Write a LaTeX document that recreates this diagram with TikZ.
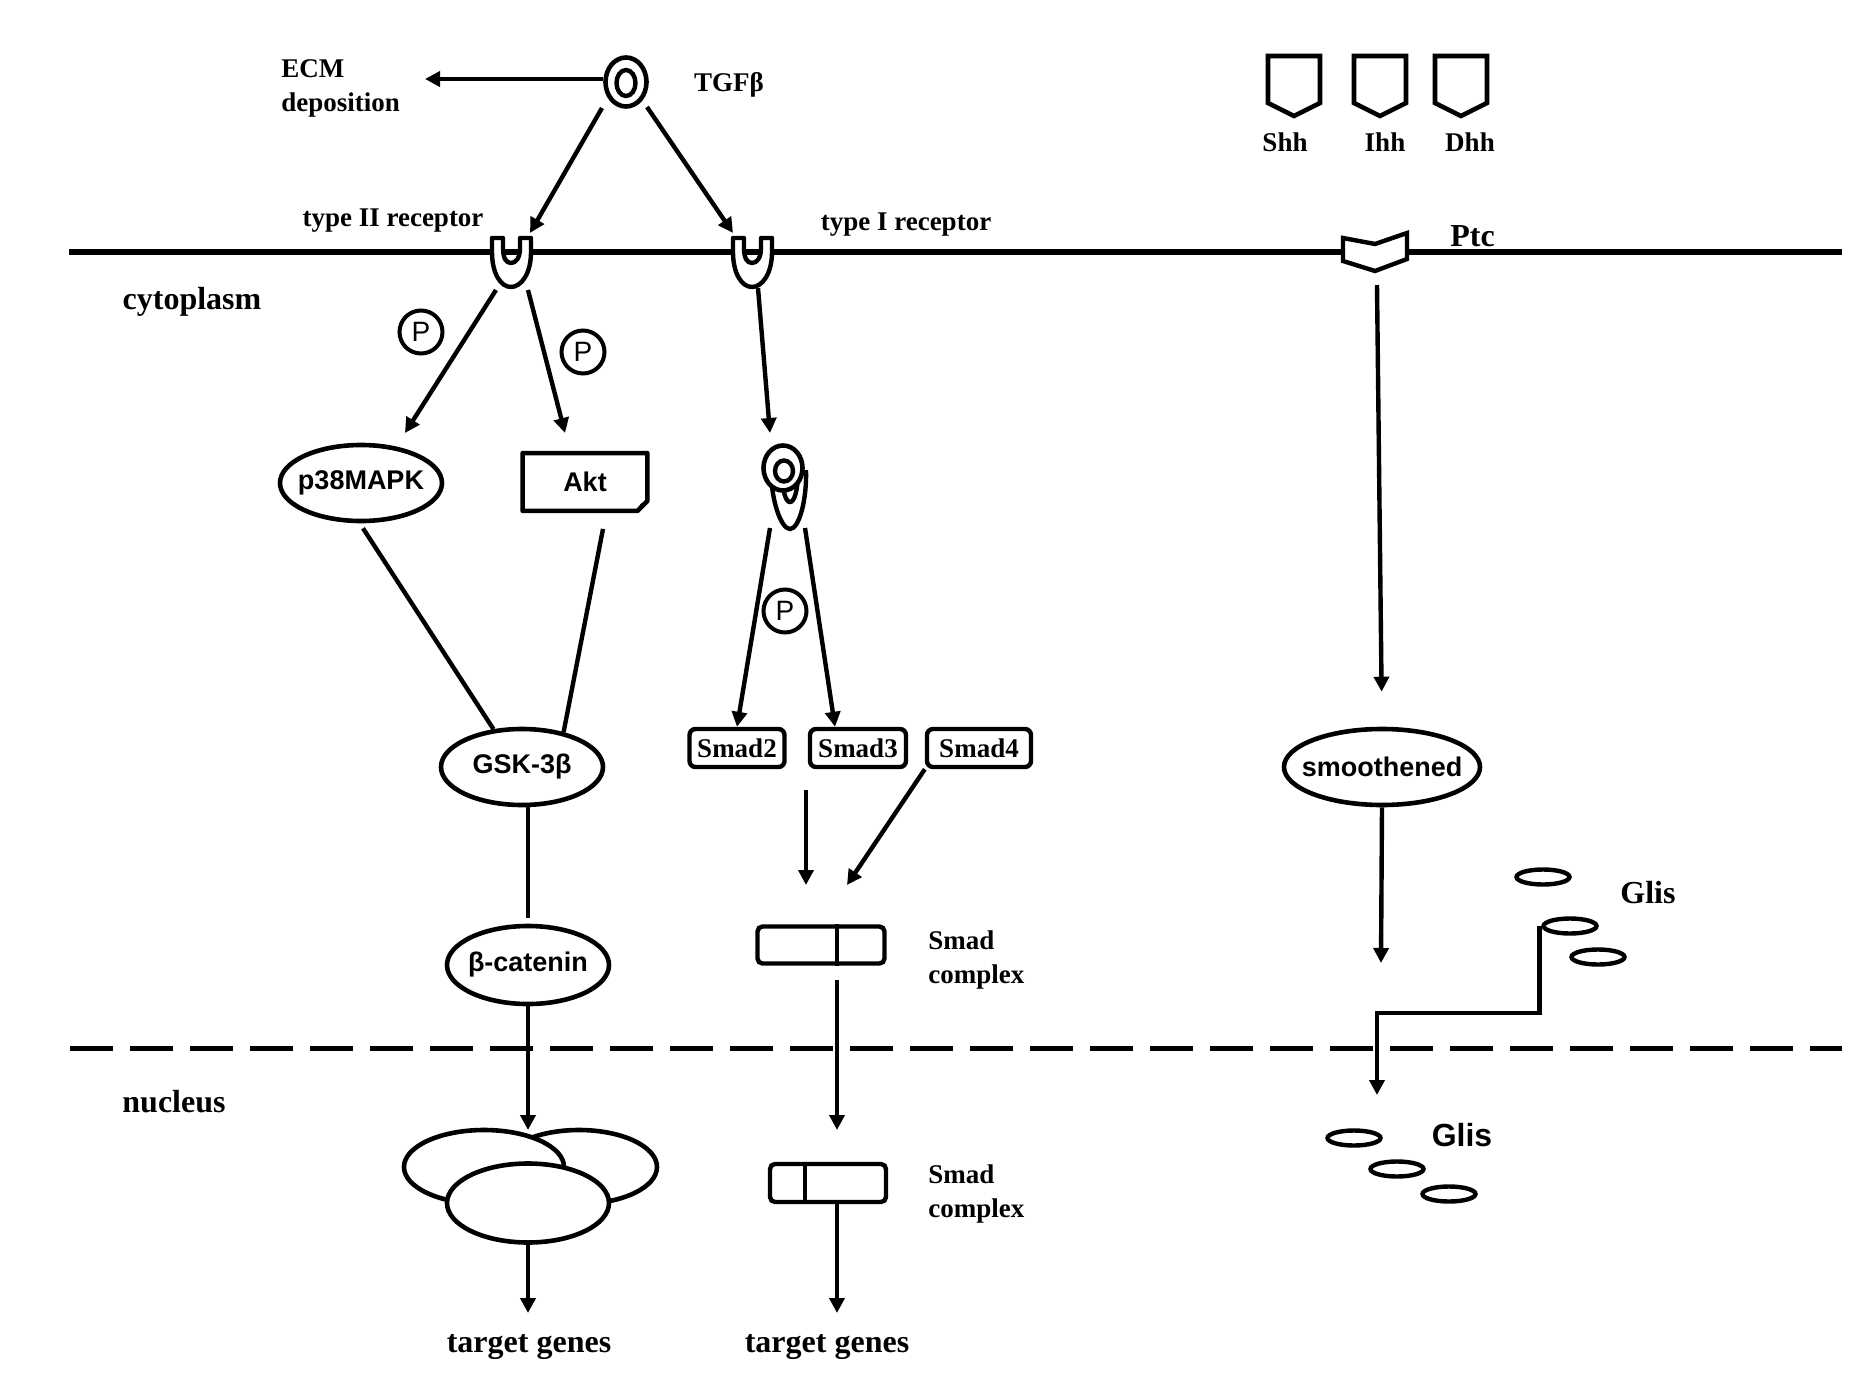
\documentclass[tikz,border=0pt]{standalone}
\usepackage{fontspec}
\setmainfont{Liberation Serif}
\setsansfont{Liberation Sans}
\usetikzlibrary{arrows.meta,shapes.geometric,calc}
\begin{document}
\begin{tikzpicture}[x=0.5pt,y=-0.5pt,
  lab/.style={font=\bfseries\fontsize{13.5}{17}\selectfont, inner sep=0pt, align=left},
  big/.style={font=\bfseries\fontsize{16}{18}\selectfont, inner sep=0pt},
  sfl/.style={font=\sffamily\bfseries\fontsize{13.5}{15}\selectfont, inner sep=0pt},
  arr/.style={line width=2.2pt, -{Triangle[length=7.5pt,width=7.5pt]}},
  conn/.style={line width=2.2pt},
  oval/.style={ellipse, draw, line width=2.3pt, fill=white, inner sep=0pt, minimum width=81pt, minimum height=38pt},
  pcirc/.style={circle, draw, line width=2pt, minimum size=21.5pt, inner sep=0pt, font=\sffamily\fontsize{14}{14}\selectfont},
  smadbox/.style={rectangle, rounded corners=3pt, draw, line width=2.2pt, minimum height=19pt, inner sep=1pt, font=\bfseries\fontsize{13.5}{15}\selectfont},
  cplx/.style={rectangle, rounded corners=2.5pt, draw, line width=2.2pt, inner sep=0pt},
  glis/.style={ellipse, draw, line width=2.2pt, minimum width=26.5pt, minimum height=7.5pt, inner sep=0pt},
  blob/.style={ellipse, draw, line width=2.3pt, fill=white, inner sep=0pt},
  shield/.pic={\draw[line width=2.3pt, line join=miter] (-26,0) -- (26,0) -- (26,47) -- (0,60) -- (-26,47) -- cycle;},
  recU/.pic={\draw[line width=2.2pt, fill=white, line join=round] (-19,0) -- (-19,14) .. controls (-19,36) and (-10,49) .. (0,49) .. controls (10,49) and (20,36) .. (20,14) -- (20,0) -- (9,0) -- (9,10) .. controls (9,20) and (5,25) .. (0,25) .. controls (-5,25) and (-8,20) .. (-8,10) -- (-8,0) -- cycle;}
]
\useasboundingbox (0,0) rectangle (1870,1392);

% membrane and nuclear envelope
\coordinate (memL) at (69,252);
\coordinate (memR) at (1842,252);
\draw[line width=3pt] (memL) -- (memR);
\coordinate (nucL) at (70,1048);
\coordinate (nucR) at (1842,1048);
\draw[line width=2.5pt, dash pattern=on 21.5pt off 8.5pt] (nucL) -- (nucR);

\node[big] (cyto) at (192,302) {cytoplasm};
\node[big] (nuc) at (174,1102) {nucleus};

% TGF beta
\node[blob, minimum width=20.5pt, minimum height=24.5pt] (tgf) at (626,82) {};
\node[ellipse, draw, line width=2.2pt, minimum width=9.5pt, minimum height=13pt, inner sep=0pt] (tgfin) at (626,83) {};
\node[lab] (tgflab) at (729,85) {TGFβ};
\node[lab, anchor=north west] (ecm) at (281,59) {ECM\\deposition};
\coordinate (ecmtip) at (425,79);
\draw[arr] (tgf.west |- ecmtip) -- (ecmtip);

% receptors
\coordinate (rec2) at (511,238);
\coordinate (rec1) at (752,238);
\coordinate (tgfA) at ($(tgf)+(-24,26)$);
\coordinate (tgfB) at ($(tgf)+(21,25)$);
\draw[arr] (tgfA) -- ($(rec2)+(19,-5)$);
\draw[arr] (tgfB) -- ($(rec1)+(-19,-5)$);
\pic at (rec2) {recU};
\pic at (rec1) {recU};
\node[lab] (t2lab) at (393,221) {type II receptor};
\node[lab] (t1lab) at (906,225) {type I receptor};

% left branch
\node[oval] (p38) at (361,483) {};
\node[sfl] (p38t) at (p38) {p38MAPK};
\node[sfl, minimum width=62pt, minimum height=28.5pt] (akt) at (585,482) {Akt};
\draw[line width=2.3pt, line join=round] (akt.north west) -- (akt.north east) -- ($(akt.south east)+(0,-10)$) -- ($(akt.south east)+(-10,0)$) -- (akt.south west) -- cycle;
\fill ($(akt.south east)+(-10,0)$) -- ($(akt.south east)+(-7,-7)$) -- ($(akt.south east)+(0,-10)$) -- cycle;
\coordinate (p38in) at (405,433);
\coordinate (aktin) at (565,433);
\draw[arr] ($(rec2)+(-15,52)$) -- (p38in);
\draw[arr] ($(rec2)+(17,52)$) -- (aktin);
\node[pcirc] (p1) at (421,332) {P};
\node[pcirc] (p2) at (583,352) {P};

\node[oval] (gsk) at (522,767) {};
\node[sfl] (gskt) at (gsk) {GSK-3β};
\draw[conn] ($(p38.south)+(2,5)$) -- (gsk.127);
\draw[conn] ($(akt.south)+(18,18)$) -- (gsk.40);
\node[oval, minimum height=39pt] (bcat) at (528,965) {};
\node[sfl] (bcatt) at (bcat) {β-catenin};
\draw[conn] ($(gsk.south)+(6,0)$) -- ($(bcat.north)+(0,-6)$);
\coordinate (nucin) at (528,1130);
\draw[arr] (bcat.south) -- (nucin);

\node[blob, minimum width=78pt, minimum height=37pt] (eR) at (579,1167) {};
\node[blob, minimum width=80pt, minimum height=37pt] (eL) at (484,1167) {};
\node[blob, minimum width=81pt, minimum height=39.5pt] (eF) at (528,1203) {};
\coordinate (tg1in) at (528,1313);
\draw[arr] (eF.south) -- (tg1in);
\node[big] (tg1) at (529,1347) {target genes};

% middle branch
\coordinate (r1out) at ($(rec1)+(6,50)$);
\coordinate (cxin) at (770,433);
\draw[arr] (r1out) -- (cxin);
\coordinate (sr) at (790,470);
\draw[line width=2.2pt, fill=white] ($(sr)+(-19,0)$) .. controls ($(sr)+(-19,30)$) and ($(sr)+(-9,59)$) .. ($(sr)+(0,59)$) .. controls ($(sr)+(9,59)$) and ($(sr)+(17,30)$) .. ($(sr)+(16,0)$);
\draw[line width=2.2pt] ($(sr)+(-8,0)$) .. controls ($(sr)+(-8,22)$) and ($(sr)+(-4,32)$) .. ($(sr)+(0,32)$) .. controls ($(sr)+(4,32)$) and ($(sr)+(8,22)$) .. ($(sr)+(8,0)$);
\node[blob, minimum width=19.5pt, minimum height=22.5pt] (cx) at (783,468) {};
\node[ellipse, draw, line width=2.2pt, minimum width=9pt, minimum height=10.5pt, inner sep=0pt] (cxin2) at (784,471) {};

\node[smadbox, minimum width=47.5pt] (smad2) at (737,748) {Smad2};
\node[smadbox, minimum width=48pt] (smad3) at (858,748) {Smad3};
\node[smadbox, minimum width=52pt] (smad4) at (979,748) {Smad4};
\draw[arr] ($(cx)+(-13,60)$) -- (smad2.north);
\draw[arr] ($(cx)+(22,60)$) -- ($(smad3.north)+(-23,0)$);
\node[pcirc] (p3) at (785,611) {P};

\coordinate (ds1) at (806,790);
\coordinate (ds2) at (806,885);
\draw[arr] (ds1) -- (ds2);
\coordinate (s4tip) at (847,885);
\draw[arr] (smad4.south west) -- (s4tip);

\node[cplx, minimum width=63.5pt, minimum height=18.5pt] (scx1) at (821,945) {};
\coordinate (dv1) at (837,0);
\draw[line width=2.2pt] (scx1.north -| dv1) -- (scx1.south -| dv1);
\node[lab, anchor=north west] (scx1lab) at (928,930) {Smad\\complex};
\coordinate (c2in) at (837,1130);
\draw[arr] (scx1.south -| c2in) ++(0,14) -- (c2in);

\node[cplx, minimum width=58pt, minimum height=19pt] (scx2) at (828,1183) {};
\coordinate (dv2) at (805,0);
\draw[line width=2.2pt] (scx2.north -| dv2) -- (scx2.south -| dv2);
\node[lab, anchor=north west] (scx2lab) at (928,1164) {Smad\\complex};
\coordinate (tg2in) at (837,1313);
\draw[arr] (scx2.south -| tg2in) -- (tg2in);
\node[big] (tg2) at (827,1347) {target genes};

% hedgehog
\coordinate (shh) at (1294,56);
\coordinate (ihh) at (1380,56);
\coordinate (dhh) at (1461,56);
\pic at (shh) {shield};
\pic at (ihh) {shield};
\pic at (dhh) {shield};
\node[lab] (shhl) at (1285,142) {Shh};
\node[lab] (ihhl) at (1385,142) {Ihh};
\node[lab] (dhhl) at (1470,142) {Dhh};

\coordinate (ptc) at (1375,252);
\begin{scope}[shift={(ptc)}]
\draw[line width=2.2pt, fill=white, line join=miter] (-32,-14) -- (0,-8) -- (32,-19) -- (32,7) -- (0,19) -- (-32,9) -- cycle;
\end{scope}
\node[font=\bfseries\fontsize{16}{18}\selectfont, inner sep=0pt, anchor=base west] (ptcl) at (1450,246) {Ptc};

\node[oval, minimum width=98pt, minimum height=38pt] (smo) at (1382,767) {};
\node[sfl] (smot) at (smo) {smoothened};
\draw[arr, shorten >=17.5pt] ($(ptc)+(2,33)$) -- (smo.north);
\coordinate (smout) at (1381,963);
\draw[arr] (smo.south) -- (smout);

\node[glis] (g1) at (1543,877) {};
\node[glis] (g2) at (1570,926) {};
\node[glis] (g3) at (1598,957) {};
\node[big] (glisup) at (1648,893) {Glis};
\coordinate (gdown) at (1377,1095);
\draw[arr, line join=miter] ($(g2.west)+(-2,0)$) -- ++(0,87) -| (gdown);

\node[glis] (h1) at (1354,1138) {};
\node[glis] (h2) at (1397,1169) {};
\node[glis] (h3) at (1449,1194) {};
\node[font=\sffamily\bfseries\fontsize{16}{18}\selectfont, inner sep=0pt] (glislo) at (1462,1135) {Glis};
\end{tikzpicture}
\end{document}
